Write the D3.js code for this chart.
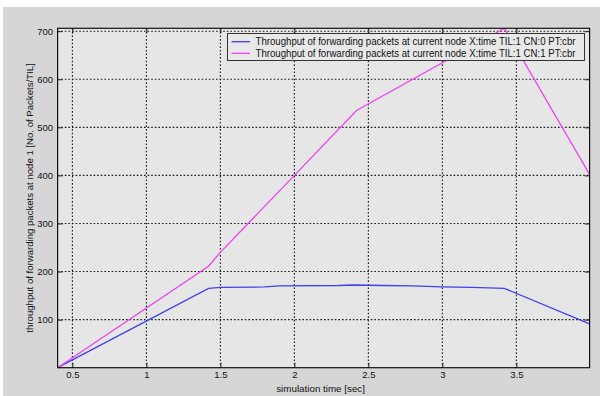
<!DOCTYPE html>
<html><head><meta charset="utf-8">
<script src="https://cdn.jsdelivr.net/npm/d3@7"></script>
<style>body{margin:0;background:#fff}svg{display:block}text{font-family:"Liberation Sans",Arial,sans-serif}</style>
</head><body><svg id="c" width="608" height="396"></svg>
<script>
const seriesNames = [
  "Throughput of forwarding packets at current node X:time TIL:1 CN:0 PT:cbr",
  "Throughput of forwarding packets at current node X:time TIL:1 CN:1 PT:cbr"
];
const blueX = [0.4, 1.42, 1.5, 1.8, 1.9, 2.3, 2.4, 2.6, 2.8, 3.0, 3.2, 3.42, 3.995];
const blueY = [0, 165, 167, 168, 170, 171, 172, 171, 170, 168, 167, 165, 91];
const magX = [0.4, 1.42, 1.5, 2.0, 2.42, 3.42, 3.995];
const magY = [0, 211, 240, 400, 535, 706, 402];
const xTicks = [0.5, 1, 1.5, 2, 2.5, 3, 3.5];
const yTicks = [100, 200, 300, 400, 500, 600, 700];
const colors = ["#4040f0", "#f040f0"];

const svg = d3.select("#c");
const L = 57.6, R = 589.6, T = 28.3, B = 367.7;
svg.append("rect").attr("x", 3).attr("y", 7).attr("width", 597).attr("height", 389).attr("fill", "#d6d6d6");
svg.append("rect").attr("x", L).attr("y", T).attr("width", R - L).attr("height", B - T).attr("fill", "#e6e6e6");

const x = d3.scaleLinear().domain([0.4, 3.995]).range([L, R]);
const y = d3.scaleLinear().domain([0, 706]).range([B, T]);

const g = svg.append("g");
// grid
g.selectAll(".gx").data(xTicks).join("line")
  .attr("x1", d => x(d)).attr("x2", d => x(d)).attr("y1", T).attr("y2", B)
  .attr("stroke", "#1a1a1a").attr("stroke-width", 1.1).attr("stroke-dasharray", "1.6,2");
g.selectAll(".gy").data(yTicks).join("line")
  .attr("y1", d => y(d)).attr("y2", d => y(d)).attr("x1", L).attr("x2", R)
  .attr("stroke", "#1a1a1a").attr("stroke-width", 1.1).attr("stroke-dasharray", "1.6,2");

// axes
const ax = svg.append("g").attr("transform", `translate(0,${B})`)
  .call(d3.axisBottom(x).tickValues(xTicks).tickSizeInner(-5).tickSizeOuter(0).tickPadding(4).tickFormat(d3.format("")));
const axT = svg.append("g").attr("transform", `translate(0,${T})`)
  .call(d3.axisTop(x).tickValues(xTicks).tickSizeInner(-5).tickSizeOuter(0).tickFormat(""));
const ay = svg.append("g").attr("transform", `translate(${L},0)`)
  .call(d3.axisLeft(y).tickValues(yTicks).tickSizeInner(-5).tickSizeOuter(0).tickPadding(4.5));
const ayR = svg.append("g").attr("transform", `translate(${R},0)`)
  .call(d3.axisRight(y).tickValues(yTicks).tickSizeInner(-5).tickSizeOuter(0).tickFormat(""));
[ax, axT, ay, ayR].forEach(a => {
  a.select(".domain").remove();
  a.selectAll("line").attr("stroke", "#222");
  a.selectAll("text").attr("font-size", 9.5).attr("fill", "#111")
    .attr("font-family", "'Liberation Sans',Arial,sans-serif");
});

// lines
const line = d3.line().x(d => x(d[0])).y(d => y(d[1]));
const clip = svg.append("clipPath").attr("id", "cp").append("rect")
  .attr("x", L).attr("y", T).attr("width", R - L).attr("height", B - T);
[[blueX, blueY], [magX, magY]].forEach(([xs, ys], i) => {
  svg.append("path").datum(xs.map((v, j) => [v, ys[j]]))
    .attr("d", line).attr("fill", "none").attr("stroke", colors[i]).attr("stroke-width", 1.3)
    .attr("clip-path", "url(#cp)");
});

// border
svg.append("rect").attr("x", L).attr("y", T).attr("width", R - L).attr("height", B - T)
  .attr("fill", "none").attr("stroke", "#111").attr("stroke-width", 1.2);

// legend
const lg = svg.append("g");
lg.append("rect").attr("x", 227.5).attr("y", 33.5).attr("width", 357).attr("height", 27)
  .attr("fill", "#e8e8e8").attr("stroke", "#333").attr("stroke-width", 1);
seriesNames.forEach((s, i) => {
  const yy = 41.7 + i * 11.6;
  lg.append("line").attr("x1", 231.5).attr("x2", 250).attr("y1", yy).attr("y2", yy)
    .attr("stroke", colors[i]).attr("stroke-width", 1.3);
  lg.append("text").attr("x", 255.5).attr("y", yy + 3.5).attr("font-size", 10)
    .attr("textLength", 320).attr("lengthAdjust", "spacingAndGlyphs").attr("fill", "#111").text(s);
});

// labels
svg.append("text").attr("x", (L + R) / 2 - 3).attr("y", 391.5).attr("text-anchor", "middle")
  .attr("font-size", 9.8).attr("fill", "#111").text("simulation time [sec]");
svg.append("text").attr("transform", `translate(33,${(T + B) / 2}) rotate(-90)`).attr("text-anchor", "middle")
  .attr("font-size", 9.6).attr("fill", "#111").text("throughput of forwarding packets at node 1 [No. of Packets/TIL]");
</script></body></html>
